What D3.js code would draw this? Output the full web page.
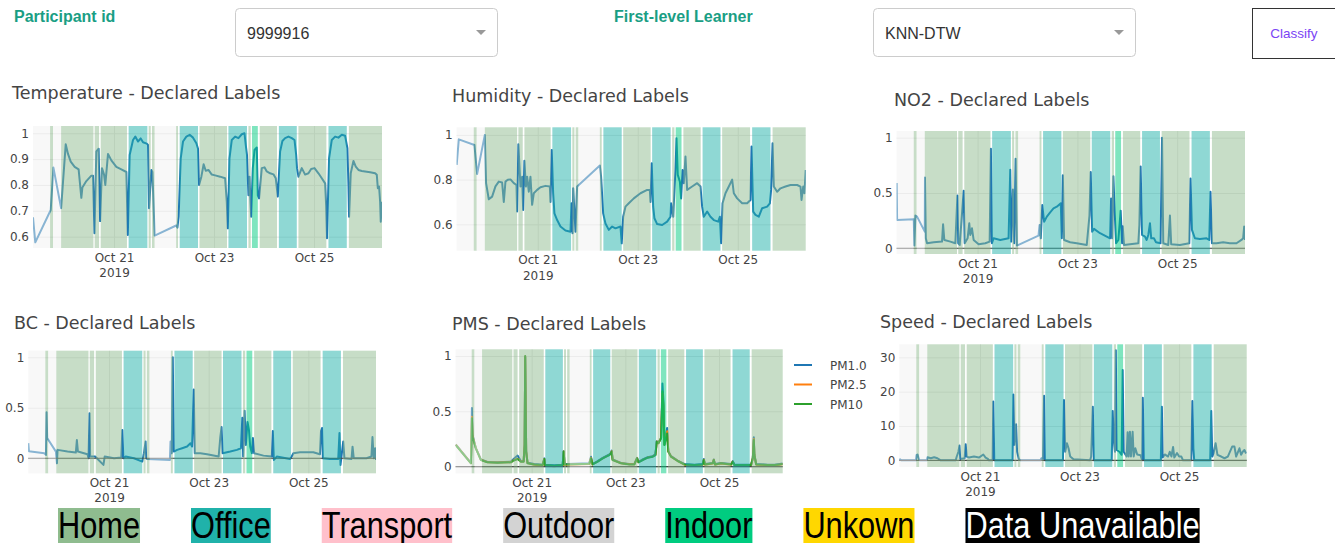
<!DOCTYPE html>
<html>
<head>
<meta charset="utf-8">
<script src="https://cdn.jsdelivr.net/npm/d3@7"></script>
<style>
  body { margin: 0; background: #fff; overflow: hidden; }
</style>
</head>
<body>
<div id="graphic"></div>
<script>
// Declared labels dashboard - one participant, Oct 19 to Oct 26 2019

const FONT = "'DejaVu Sans', Verdana, sans-serif";
const ARIAL = "'Liberation Sans', Arial, sans-serif";

// Time is stored in hours from Oct 21 2019 00:00
const tStart = -38.9, tEnd = 128.6;
const tickDays = [21, 23, 25];

// Activity categories (legend at the bottom)
const categories = ["Home", "Office", "Transport", "Outdoor", "Indoor", "Unkown", "Data Unavailable"];
const catColors = ["#8FBC8F", "#20B2AA", "#FFC0CB", "#D3D3D3", "#00CC80", "#FFD700", "#000000"];

// Declared label segments, shared by the six charts ("None" = no label)
const bandStart = [tStart, -30.7, -29.3, -25.4, -9.3, -6.4, 7.0, 16.6, 18.2, 19.5, 29.8, 31.5, 41.0, 54.9, 64.5, 66.2, 69.9, 79.1, 88.5, 102.9, 112.7];
const bandEnd   = [-30.7, -29.3, -25.4, -9.9, -7.2, 6.2, 16.0, 17.6, 19.5, 29.8, 30.7, 40.3, 54.2, 63.8, 65.6, 69.0, 78.2, 87.7, 101.9, 111.7, tEnd];
const bandLabel = ["None", "Home", "None", "Home", "Home", "Home", "Office", "Home", "Home", "None", "Home", "Office", "Home", "Office", "Home", "Indoor", "Home", "Office", "Home", "Office", "Home"];

// Series: [hour, normalised value]
const temperature = [[-38.9,0.675],[-37.8,0.578],[-30.4,0.703],[-29.1,0.867],[-25.4,0.71],[-23.2,0.957],[-22.1,0.92],[-20.8,0.89],[-18.9,0.87],[-17.0,0.86],[-15.7,0.75],[-15.2,0.79],[-13.3,0.815],[-10.9,0.836],[-10.1,0.836],[-9.4,0.613],[-8.5,0.93],[-7.4,0.94],[-6.7,0.66],[-5.8,0.865],[-4.8,0.84],[-4.2,0.80],[-2.9,0.92],[-1.3,0.895],[1.1,0.87],[3.5,0.86],[5.9,0.85],[6.6,0.606],[7.5,0.916],[9.1,0.974],[10.2,0.987],[11.5,0.968],[12.8,0.98],[13.9,0.965],[15.7,0.96],[16.3,0.955],[16.8,0.71],[17.9,0.858],[18.4,0.85],[19.5,0.604],[29.8,0.643],[30.4,0.635],[31.0,0.677],[32.0,0.903],[33.1,0.968],[34.7,0.987],[36.3,0.994],[37.9,0.983],[39.5,0.961],[40.3,0.94],[40.8,0.80],[41.9,0.832],[43.0,0.88],[44.0,0.855],[45.3,0.858],[46.9,0.84],[48.5,0.837],[50.9,0.832],[53.3,0.826],[54.1,0.735],[54.6,0.632],[55.4,0.903],[56.5,0.974],[58.1,0.987],[59.7,0.981],[61.3,0.996],[62.6,1.0],[63.2,0.955],[63.8,0.916],[64.5,0.76],[65.0,0.832],[65.8,0.677],[66.6,0.865],[67.4,0.935],[68.5,0.945],[69.0,0.76],[69.6,0.748],[70.9,0.865],[72.2,0.868],[73.3,0.852],[74.9,0.845],[76.5,0.841],[77.6,0.826],[78.6,0.755],[79.7,0.929],[80.8,0.97],[82.1,0.981],[83.7,0.987],[85.3,0.981],[86.6,0.974],[87.4,0.916],[87.8,0.865],[88.5,0.832],[90.1,0.865],[91.7,0.84],[93.3,0.845],[94.6,0.862],[96.2,0.865],[98.1,0.845],[99.7,0.826],[101.3,0.806],[101.8,0.72],[102.2,0.594],[103.2,0.903],[104.5,0.974],[106.1,0.987],[107.7,0.983],[109.3,0.994],[110.9,0.99],[112.0,0.942],[112.5,0.80],[112.8,0.677],[113.6,0.845],[114.9,0.893],[116.0,0.871],[117.3,0.858],[118.9,0.854],[120.5,0.852],[122.9,0.849],[125.3,0.845],[126.1,0.839],[126.6,0.787],[127.2,0.794],[127.7,0.735],[128.0,0.658],[128.6,0.735]];

const humidity = [[-38.9,0.866],[-37.9,0.98],[-30.4,0.955],[-29.1,0.825],[-25.4,1.0],[-24.8,0.784],[-23.5,0.712],[-21.9,0.724],[-20.3,0.77],[-18.7,0.791],[-17.1,0.787],[-16.3,0.70],[-15.5,0.791],[-14.4,0.799],[-13.1,0.801],[-11.5,0.784],[-10.2,0.776],[-9.9,0.657],[-9.3,0.958],[-8.3,0.769],[-7.5,0.813],[-7.0,0.664],[-6.4,0.884],[-5.7,0.769],[-5.1,0.813],[-4.3,0.746],[-3.5,0.813],[-2.7,0.687],[-1.9,0.739],[-0.3,0.754],[1.3,0.766],[3.7,0.772],[5.8,0.769],[6.1,0.70],[6.7,0.933],[7.4,0.739],[8.0,0.649],[9.3,0.619],[10.9,0.59],[13.3,0.572],[15.7,0.567],[16.2,0.694],[16.7,0.56],[17.0,0.761],[17.6,0.657],[18.1,0.567],[18.9,0.769],[29.8,0.863],[30.4,0.813],[31.4,0.649],[32.5,0.604],[34.1,0.575],[35.7,0.59],[37.3,0.582],[39.7,0.59],[40.3,0.515],[41.0,0.634],[42.1,0.679],[43.7,0.694],[46.1,0.716],[49.3,0.739],[52.5,0.754],[53.8,0.754],[54.1,0.70],[54.7,0.873],[55.4,0.679],[56.0,0.627],[57.3,0.601],[59.7,0.597],[62.1,0.612],[63.7,0.634],[64.0,0.694],[65.0,0.634],[66.1,0.846],[66.6,0.985],[67.2,0.821],[68.2,0.791],[68.8,0.716],[69.5,0.843],[70.1,0.784],[70.9,0.903],[71.7,0.754],[74.1,0.769],[76.5,0.784],[78.1,0.769],[78.9,0.679],[79.7,0.634],[81.3,0.657],[82.9,0.634],[84.5,0.619],[86.6,0.612],[87.4,0.634],[88.0,0.515],[88.7,0.694],[90.1,0.739],[91.7,0.769],[93.3,0.80],[94.1,0.739],[95.7,0.716],[98.1,0.694],[100.5,0.694],[102.1,0.709],[102.6,0.948],[103.4,0.657],[104.5,0.642],[106.1,0.634],[107.7,0.672],[110.1,0.679],[111.4,0.694],[112.0,0.754],[112.7,0.963],[113.3,0.769],[114.9,0.746],[116.5,0.761],[118.9,0.769],[121.3,0.776],[124.5,0.776],[126.1,0.769],[126.6,0.709],[127.4,0.769],[128.0,0.739],[128.6,0.843]];

const no2 = [[-38.9,0.59],[-38.7,0.256],[-30.7,0.262],[-30.4,0.024],[-29.9,0.295],[-29.1,0.286],[-25.4,0.15],[-25.3,0.64],[-24.9,0.09],[-24.3,0.045],[-21.1,0.054],[-17.1,0.06],[-16.6,0.217],[-16.0,0.075],[-13.1,0.06],[-10.7,0.045],[-9.7,0.476],[-9.3,0.045],[-8.6,0.03],[-6.7,0.52],[-6.2,0.045],[-4.8,0.09],[-4.0,0.226],[-3.5,0.12],[-2.7,0.18],[-1.9,0.075],[0.5,0.036],[3.7,0.045],[5.8,0.06],[6.4,0.90],[6.9,0.045],[7.7,0.09],[10.9,0.075],[14.9,0.09],[15.7,0.71],[16.2,0.06],[17.0,0.53],[17.6,0.045],[18.3,0.81],[18.9,0.024],[29.3,0.114],[29.8,0.21],[30.4,0.09],[31.1,0.39],[32.0,0.24],[33.3,0.286],[34.9,0.325],[36.5,0.36],[38.1,0.376],[40.0,0.407],[40.5,0.09],[41.0,0.66],[41.6,0.075],[44.5,0.054],[47.7,0.045],[52.5,0.03],[53.8,0.295],[54.4,0.69],[55.1,0.15],[56.0,0.175],[58.9,0.136],[62.1,0.105],[63.7,0.09],[64.2,0.45],[64.7,0.09],[65.3,0.65],[66.0,0.3],[66.6,0.045],[67.7,0.075],[68.8,0.34],[69.5,0.045],[69.8,0.2],[70.4,0.03],[73.3,0.036],[77.3,0.045],[77.8,0.21],[78.4,0.74],[79.1,0.12],[80.5,0.105],[81.3,0.075],[82.1,0.12],[82.9,0.226],[83.5,0.09],[84.8,0.09],[85.8,0.054],[88.0,0.045],[88.7,1.0],[89.3,0.045],[91.7,0.03],[92.5,0.295],[93.1,0.036],[97.3,0.03],[101.8,0.045],[102.4,0.63],[103.1,0.166],[104.5,0.09],[106.9,0.084],[110.1,0.09],[111.4,0.075],[112.0,0.51],[112.7,0.045],[114.9,0.045],[118.1,0.054],[121.3,0.045],[124.5,0.045],[126.9,0.075],[127.7,0.09],[128.2,0.196],[128.6,0.075]];

const bc = [[-38.9,0.15],[-38.6,0.07],[-31.2,0.05],[-30.4,0.033],[-30.1,0.455],[-29.8,0.2],[-25.6,0.066],[-25.1,-0.05],[-24.8,0.083],[-20.0,0.066],[-16.0,0.056],[-15.5,0.18],[-15.0,0.066],[-10.4,0.04],[-9.9,0.0],[-9.4,0.445],[-9.1,0.017],[-6.7,0.017],[-2.7,-0.066],[-2.1,0.017],[2.4,0.0],[5.9,0.007],[6.4,0.28],[6.9,0.0],[8.0,0.017],[12.0,0.0],[16.0,-0.033],[16.8,0.05],[17.6,0.165],[17.9,0.0],[18.4,-0.007],[29.3,-0.017],[29.6,0.165],[30.2,0.05],[30.7,1.0],[31.2,0.066],[32.8,0.083],[35.2,0.099],[37.6,0.116],[39.2,0.149],[40.0,0.116],[40.5,0.48],[40.8,0.68],[41.3,0.05],[44.0,0.05],[47.2,0.04],[52.8,0.017],[53.6,0.21],[54.2,0.31],[54.7,0.05],[58.4,0.066],[61.6,0.083],[63.5,0.099],[64.2,0.4],[64.6,0.017],[65.3,0.47],[65.9,0.132],[66.7,0.36],[67.4,0.28],[68.0,0.116],[68.8,0.05],[69.3,0.2],[69.9,0.05],[74.4,0.026],[78.4,0.017],[78.9,0.27],[79.4,-0.017],[80.8,0.017],[87.2,-0.007],[88.0,0.017],[88.8,0.05],[92.0,0.06],[98.4,0.06],[101.6,0.04],[102.1,0.27],[102.6,0.3],[103.0,0.0],[106.4,-0.007],[110.4,-0.007],[111.0,0.25],[111.5,-0.066],[112.8,0.165],[113.4,0.0],[116.8,-0.007],[117.3,0.115],[117.9,0.0],[124.0,0.0],[126.4,0.017],[126.9,0.21],[127.5,0.0],[128.2,0.1],[128.6,-0.017]];

// PMS: three particle sizes sampled at the same hours
const pmsHours = [-38.9,-31.1,-30.6,-30.3,-28.6,-26.0,-22.6,-17.5,-10.6,-9.8,-7.2,-5.5,-4.1,-3.6,-3.3,-2.8,-2.1,1.3,5.6,6.5,6.8,11.6,15.9,16.4,16.9,18.4,29.5,30.4,31.2,33.8,36.4,38.1,39.8,40.6,41.0,41.5,45.8,50.0,52.6,54.0,54.7,56.9,59.4,62.0,63.4,64.1,64.9,66.3,67.0,67.5,68.0,69.4,70.0,71.4,74.8,78.2,83.4,87.6,88.2,88.8,92.8,93.3,93.9,97.0,102.2,103.0,103.9,112.4,113.3,113.8,114.1,115.0,121.0,124.4,127.0,128.6];
const pm1  = [0.2,0.035,0.53,0.29,0.17,0.065,0.042,0.04,0.045,0.06,0.1,0.05,0.05,0.2,0.99,0.14,0.035,0.024,0.018,0.075,0.018,0.012,0.018,0.14,0.024,0.024,0.03,0.09,0.024,0.05,0.08,0.095,0.11,0.125,0.145,0.065,0.034,0.024,0.024,0.08,0.042,0.065,0.085,0.095,0.11,0.23,0.215,0.26,0.75,0.6,0.2,0.35,0.14,0.095,0.055,0.024,0.018,0.024,0.07,0.024,0.034,0.065,0.024,0.034,0.024,0.05,0.018,0.018,0.08,0.265,0.11,0.024,0.018,0.018,0.024,0.028];
const pm25 = [0.198,0.032,0.45,0.28,0.168,0.062,0.04,0.038,0.04,0.052,0.072,0.047,0.047,0.198,0.995,0.138,0.032,0.018,0.01,0.07,0.01,0.004,0.012,0.138,0.016,0.017,0.025,0.078,0.02,0.046,0.076,0.091,0.106,0.121,0.138,0.061,0.031,0.021,0.021,0.076,0.04,0.061,0.082,0.091,0.106,0.228,0.212,0.258,0.66,0.55,0.198,0.32,0.138,0.091,0.052,0.018,0.012,0.018,0.062,0.018,0.028,0.062,0.018,0.028,0.018,0.046,0.012,0.012,0.076,0.25,0.106,0.018,0.012,0.012,0.018,0.022];
const pm10 = [0.196,0.03,0.437,0.27,0.166,0.06,0.039,0.036,0.039,0.05,0.069,0.045,0.045,0.196,1.0,0.136,0.03,0.02,0.015,0.069,0.015,0.009,0.015,0.136,0.02,0.02,0.027,0.075,0.02,0.045,0.075,0.09,0.105,0.12,0.136,0.06,0.03,0.02,0.02,0.075,0.039,0.06,0.081,0.09,0.105,0.226,0.211,0.256,0.68,0.557,0.196,0.3,0.136,0.09,0.051,0.02,0.015,0.02,0.06,0.02,0.03,0.06,0.02,0.03,0.02,0.045,0.015,0.015,0.075,0.24,0.105,0.02,0.015,0.015,0.02,0.025];

const speed = [[-38.9,0.4],[-37.8,0],[-30.9,0],[-30.6,1.5],[-30.1,1.7],[-29.5,0.4],[-29.1,0],[-25.6,0],[-25.3,0.9],[-23.7,0.6],[-22.1,0.9],[-20.5,0.6],[-19.7,0.3],[-18.9,0],[-11.7,0],[-11.2,1.1],[-10.4,2.5],[-9.9,4.3],[-9.5,0.4],[-7.4,0.6],[-6.9,4.7],[-6.4,1.1],[-5.3,0.8],[-2.9,1.1],[-0.5,0.8],[1.6,1.7],[2.7,0.8],[3.8,0.4],[4.3,0],[6.1,0],[6.4,17.1],[6.9,0],[15.7,0],[16.1,19.2],[16.6,4.5],[17.1,8.3],[17.4,10.5],[17.9,2.5],[18.7,0.4],[19.5,0],[29.1,0],[29.6,0.6],[30.4,0.4],[30.9,18.8],[31.3,0],[40.0,0],[40.5,17.6],[41.1,2.5],[41.9,5.0],[42.7,3.5],[43.5,1.1],[45.1,0.3],[53.1,0],[53.6,1.1],[54.4,15.6],[54.9,0],[63.5,0],[64.0,14.4],[64.5,5.9],[65.1,2.5],[65.5,32.1],[65.9,3.0],[67.2,2.5],[68.3,1.6],[68.8,26.3],[69.3,2.5],[70.7,1.1],[71.2,8.2],[71.7,1.1],[72.3,8.3],[72.8,1.1],[73.6,8.3],[74.1,1.1],[74.9,3.5],[75.8,1.7],[77.4,1.5],[78.2,0],[78.5,18.2],[79.0,0],[87.2,0],[87.7,15.6],[88.1,0.8],[89.1,1.7],[90.7,1.1],[91.5,2.5],[92.3,1.1],[93.1,3.9],[93.7,0.8],[95.0,2.1],[96.0,1.1],[97.1,1.1],[97.9,0],[101.9,0],[102.4,17.3],[102.9,3.5],[103.3,0],[111.0,0],[111.5,14.4],[112.0,1.1],[112.6,2.0],[113.6,5.0],[114.5,1.6],[116.3,1.1],[117.9,0.6],[119.5,1.1],[121.6,4.0],[122.7,4.0],[123.5,1.1],[125.1,3.5],[125.9,1.6],[126.7,2.5],[127.5,3.0],[128.3,2.0]];

const pmsNames = ["PM1.0", "PM2.5", "PM10"];
const pmsColors = ["#1f77b4", "#ff7f0e", "#2ca02c"];

const bandColor = {Home: "#8FBC8F", Office: "#20B2AA", Indoor: "#00CC80", None: "#F2F2F2"};

const base = new Date(2019, 9, 21);
function toDate(h){ return new Date(base.getTime() + h * 3600 * 1000); }

const svg = d3.select("#graphic")
  .append("svg")
  .attr("width", 1335)
  .attr("height", 543)
  .style("display", "block");

// ---------- top controls ----------
function dropdown(x, label){
  svg.append("rect")
    .attr("x", x + 0.5).attr("y", 8.5)
    .attr("width", 262).attr("height", 48)
    .attr("rx", 4)
    .attr("fill", "#fff").attr("stroke", "#ccc");
  svg.append("text")
    .attr("x", x + 12).attr("y", 38.5)
    .attr("font-family", ARIAL).attr("font-size", 16)
    .attr("fill", "#333")
    .text(label);
  svg.append("path")
    .attr("d", `M${x+241},${30} L${x+251},${30} L${x+246},${35} Z`)
    .attr("fill", "#999");
}

svg.append("text")
  .attr("x", 14).attr("y", 22)
  .attr("font-family", ARIAL).attr("font-size", 16).attr("font-weight", "bold")
  .attr("fill", "#1a9e84")
  .text("Participant id");
dropdown(235, "9999916");

svg.append("text")
  .attr("x", 614).attr("y", 22)
  .attr("font-family", ARIAL).attr("font-size", 16).attr("font-weight", "bold")
  .attr("fill", "#1a9e84")
  .text("First-level Learner");
dropdown(873, "KNN-DTW");

svg.append("rect")
  .attr("x", 1252.5).attr("y", 8.5)
  .attr("width", 95).attr("height", 50)
  .attr("fill", "#fff").attr("stroke", "#333");
svg.append("text")
  .attr("x", 1294).attr("y", 37.5)
  .attr("text-anchor", "middle")
  .attr("font-family", ARIAL).attr("font-size", 13.5)
  .attr("fill", "#7a45f5")
  .text("Classify");

// ---------- charts ----------
const panels = [
  {title: "Temperature - Declared Labels", tx: 12, ty: 99, x0: 33, x1: 382, y0: 126, y1: 248,
   yDom: [0.556, 1.028], yTicks: [0.6, 0.7, 0.8, 0.9, 1], zero: false,
   series: [{data: temperature, color: "#1f77b4"}]},
  {title: "Humidity - Declared Labels", tx: 452, ty: 102, x0: 456.7, x1: 805.7, y0: 127.3, y1: 250.7,
   yDom: [0.482, 1.034], yTicks: [0.6, 0.8, 1], zero: false,
   series: [{data: humidity, color: "#1f77b4"}]},
  {title: "NO2 - Declared Labels", tx: 894, ty: 106, x0: 896.7, x1: 1245, y0: 131, y1: 254,
   yDom: [-0.052, 1.06], yTicks: [0, 0.5, 1], zero: true,
   series: [{data: no2, color: "#1f77b4"}]},
  {title: "BC - Declared Labels", tx: 14, ty: 329, x0: 28.3, x1: 376, y0: 350.7, y1: 473.3,
   yDom: [-0.149, 1.065], yTicks: [0, 0.5, 1], zero: true,
   series: [{data: bc, color: "#1f77b4"}]},
  {title: "PMS - Declared Labels", tx: 452, ty: 330, x0: 455.7, x1: 782.7, y0: 349.3, y1: 473.3,
   yDom: [-0.06, 1.06], yTicks: [0, 0.5, 1], zero: true, legend: true,
   series: [
     {data: pmsHours.map((h, i) => [h, pm1[i]]),  color: pmsColors[0]},
     {data: pmsHours.map((h, i) => [h, pm25[i]]), color: pmsColors[1]},
     {data: pmsHours.map((h, i) => [h, pm10[i]]), color: pmsColors[2]}
   ]},
  {title: "Speed - Declared Labels", tx: 880, ty: 328, x0: 899.3, x1: 1246.7, y0: 344.3, y1: 467,
   yDom: [-1.95, 33.8], yTicks: [0, 10, 20, 30], zero: true,
   series: [{data: speed, color: "#1f77b4"}]}
];

const defs = svg.append("defs");

panels.forEach(function(p, k){
  const g = svg.append("g");
  const w = p.x1 - p.x0, h = p.y1 - p.y0;

  const x = d3.scaleTime().domain([toDate(tStart), toDate(tEnd)]).range([p.x0, p.x1]);
  const y = d3.scaleLinear().domain(p.yDom).range([p.y1, p.y0]);

  g.append("text")
    .attr("x", p.tx).attr("y", p.ty)
    .attr("font-family", FONT).attr("font-size", 17.5)
    .attr("fill", "#444")
    .text(p.title);

  g.append("rect")
    .attr("x", p.x0).attr("y", p.y0)
    .attr("width", w).attr("height", h)
    .attr("fill", "#fff");

  // grid + y labels
  const ya = g.append("g")
    .attr("transform", `translate(${p.x0},0)`)
    .call(d3.axisLeft(y).tickValues(p.yTicks).tickSize(-w).tickPadding(4).tickFormat(d3.format("~g")));
  ya.attr("font-family", FONT).attr("font-size", 12);
  ya.select(".domain").remove();
  ya.selectAll(".tick line").attr("stroke", "#e6e6e6");
  ya.selectAll(".tick text").attr("fill", "#444");

  const tickDates = tickDays.map(d => new Date(2019, 9, d));
  const xa = g.append("g")
    .attr("transform", `translate(0,${p.y1})`)
    .call(d3.axisBottom(x).tickValues(tickDates).tickSize(-h).tickPadding(5).tickFormat(d3.timeFormat("%b %d")));
  xa.attr("font-family", FONT).attr("font-size", 12);
  xa.select(".domain").remove();
  xa.selectAll(".tick line").attr("stroke", "#e6e6e6");
  xa.selectAll(".tick text").attr("fill", "#444")
    .each(function(d, i){
      if (i === 0) d3.select(this).append("tspan").attr("x", 0).attr("dy", "1.3em").text("2019");
    });

  // traces, clipped to the plot area
  defs.append("clipPath").attr("id", "clip" + k)
    .append("rect").attr("x", p.x0).attr("y", p.y0).attr("width", w).attr("height", h);

  const line = d3.line()
    .x(d => x(toDate(d[0])))
    .y(d => y(d[1]));

  const lines = g.append("g").attr("clip-path", `url(#clip${k})`);
  p.series.forEach(function(s){
    lines.append("path")
      .datum(s.data)
      .attr("d", line)
      .attr("fill", "none")
      .attr("stroke", s.color)
      .attr("stroke-width", 2)
      .attr("stroke-linejoin", "round");
  });

  if (p.zero){
    g.append("line")
      .attr("x1", p.x0).attr("x2", p.x1)
      .attr("y1", y(0)).attr("y2", y(0))
      .attr("stroke", "#444").attr("stroke-width", 1.2);
  }

  // declared label bands sit over the traces, half transparent
  g.append("g").selectAll("rect")
    .data(bandStart.map((s, i) => ({s: s, e: bandEnd[i], lab: bandLabel[i]})))
    .enter()
    .append("rect")
      .attr("x", d => x(toDate(d.s)))
      .attr("y", p.y0)
      .attr("width", d => x(toDate(d.e)) - x(toDate(d.s)))
      .attr("height", h)
      .attr("fill", d => bandColor[d.lab])
      .attr("opacity", 0.5);

  if (p.legend){
    const lg = g.append("g").attr("transform", `translate(794,365)`);
    pmsNames.forEach(function(name, i){
      const row = lg.append("g").attr("transform", `translate(0,${i * 19.5})`);
      row.append("line").attr("x1", 0).attr("x2", 18).attr("y1", 0).attr("y2", 0)
        .attr("stroke", pmsColors[i]).attr("stroke-width", 2);
      row.append("text").attr("x", 36).attr("y", 4.5)
        .attr("font-family", FONT).attr("font-size", 12).attr("fill", "#444")
        .text(name);
    });
  }
});

// ---------- category legend (bottom) ----------
let lx = 58;
categories.forEach(function(cat, i){
  const item = svg.append("g").attr("transform", `translate(${lx},0) scale(0.82,1)`);
  const txt = item.append("text")
    .attr("x", 0).attr("y", 538)
    .attr("font-family", ARIAL).attr("font-size", 37.5)
    .attr("fill", i === 6 ? "#fff" : "#000")
    .text(cat);
  const tw = txt.node().getComputedTextLength();
  item.insert("rect", "text")
    .attr("x", 0).attr("y", 508)
    .attr("width", tw).attr("height", 40)
    .attr("fill", catColors[i]);
  lx += tw * 0.82 + 51;
});
</script>
</body>
</html>
